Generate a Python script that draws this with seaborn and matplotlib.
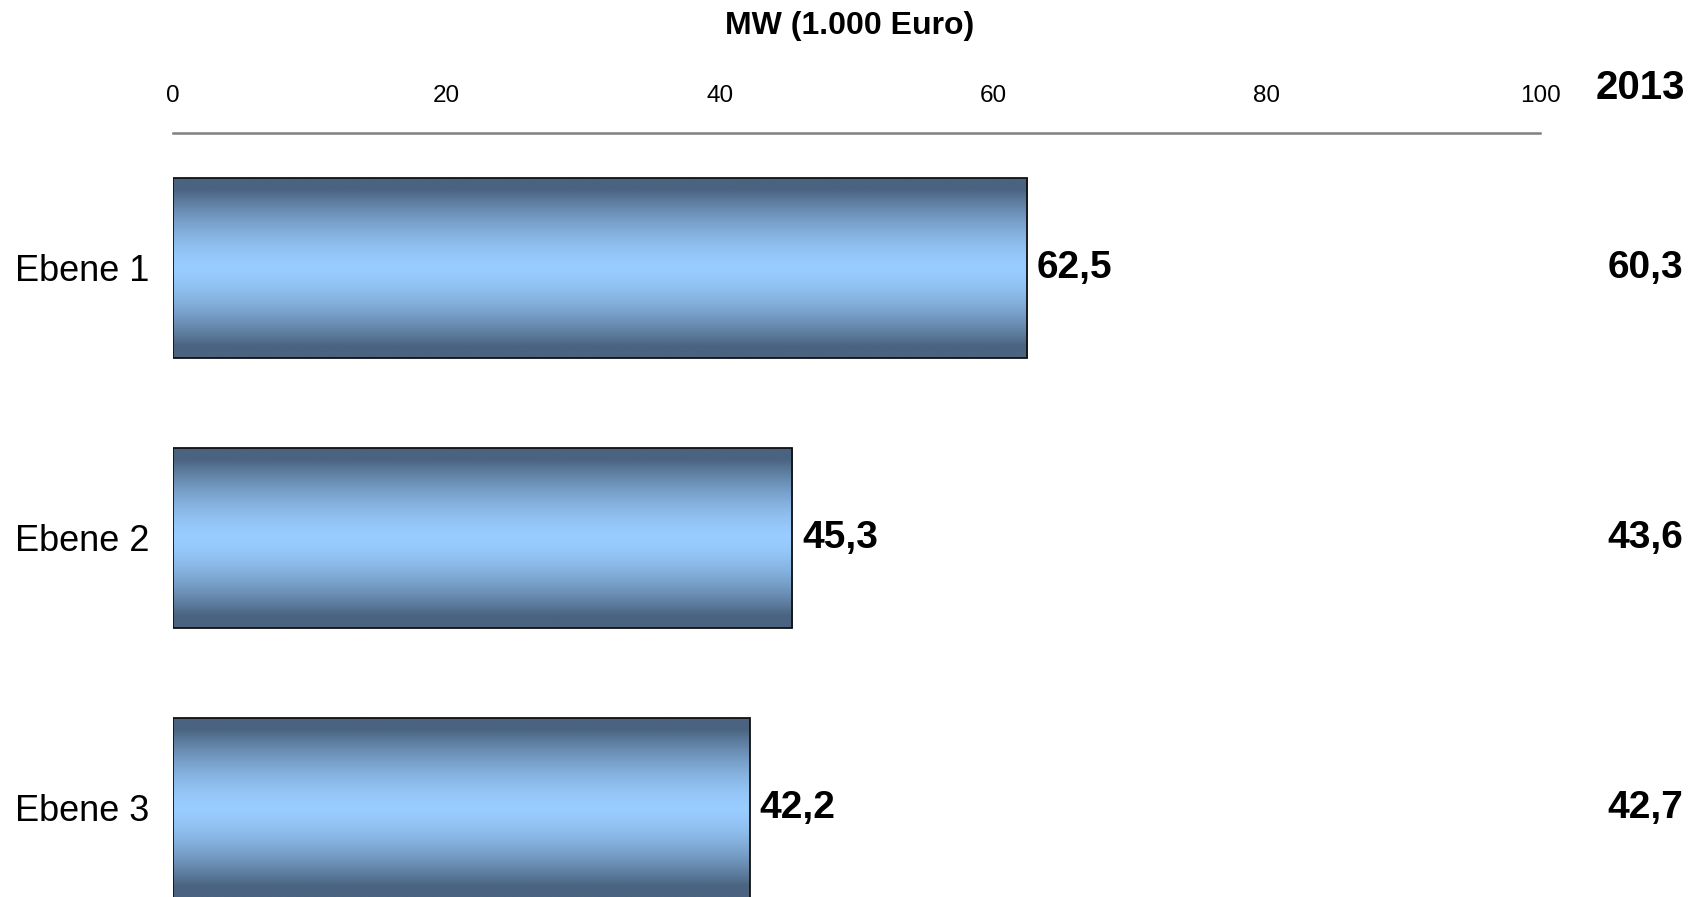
import numpy as np
import pandas as pd
import seaborn as sns
import matplotlib
matplotlib.use("Agg")
import matplotlib.pyplot as plt
import matplotlib.transforms as mtransforms

# data
levels = ["Ebene 1", "Ebene 2", "Ebene 3"]
mw = [62.5, 45.3, 42.2]
mw_2013 = [60.3, 43.6, 42.7]
x_ticks = [0, 20, 40, 60, 80, 100]

sns.set_style("white")
plt.rcParams['font.family'] = ['Liberation Sans', 'DejaVu Sans']
plt.rcParams['text.color'] = 'black'
plt.rcParams['xtick.color'] = 'black'
plt.rcParams['ytick.color'] = 'black'

df = pd.DataFrame({"level": levels, "mw": mw})


def de(v):
    # german decimal comma
    return f"{v:.1f}".replace(".", ",")


fig = plt.figure(figsize=(16.97, 8.97), dpi=100)
ax = fig.add_axes([173 / 1697, 0.0, 1367 / 1697, 1 - 133 / 897])

sns.barplot(data=df, x="mw", y="level", orient="h", width=0.667,
            color="#99ccff", ax=ax)

# vertical gradient dark-light-dark inside every bar
dark = np.array([74, 99, 128]) / 255
light = np.array([153, 204, 255]) / 255
t = np.linspace(-1, 1, 256)
w = np.clip(np.abs(t) * 1.15, 0, 1) ** 1.6
grad = (light[None, :] * (1 - w[:, None]) + dark[None, :] * w[:, None])[:, None, :]

for p in ax.patches:
    x0, y0 = p.get_x(), p.get_y()
    x1, y1 = x0 + p.get_width(), y0 + p.get_height()
    im = ax.imshow(grad, extent=[x0, x1, y1, y0], aspect="auto",
                   interpolation="bilinear", zorder=1)
    im.set_clip_path(p)
    p.set_facecolor("none")
    p.set_edgecolor("#111111")
    p.set_linewidth(1.3)
    p.set_zorder(2)

ax.set_xlim(0, 100)
ax.set_ylim(2.33, -0.50)
ax.set_aspect("auto")

ax.bar_label(ax.containers[0], labels=[de(v) for v in mw], padding=7,
             fontsize=28, fontweight="bold", color="black")

# values of 2013 on the right
trans = mtransforms.blended_transform_factory(ax.transAxes, ax.transData)
for i, v in enumerate(mw_2013):
    ax.text(1.1046, i, de(v), transform=trans, ha="right", va="center",
            fontsize=28, fontweight="bold", clip_on=False)

ax.xaxis.tick_top()
ax.set_xticks(x_ticks)
ax.set_xticklabels([str(x) for x in x_ticks], fontsize=17.5)
ax.tick_params(axis="x", length=0, pad=19)
ax.tick_params(axis="y", length=0, pad=114)
for lab in ax.get_yticklabels():
    lab.set_ha("left")
    lab.set_fontsize(26)
ax.set_xlabel("")
ax.set_ylabel("")

for s in ["bottom", "left", "right"]:
    ax.spines[s].set_visible(False)
ax.spines["top"].set_color("#808080")
ax.spines["top"].set_linewidth(1.8)

fig.text(850 / 1697, 1 - 26 / 897, "MW (1.000 Euro)", ha="center", va="center",
         fontsize=23, fontweight="bold")
fig.text(1640 / 1697, 1 - 88 / 897, "2013", ha="center", va="center",
         fontsize=29, fontweight="bold")

fig.savefig("out.png", dpi=100)
